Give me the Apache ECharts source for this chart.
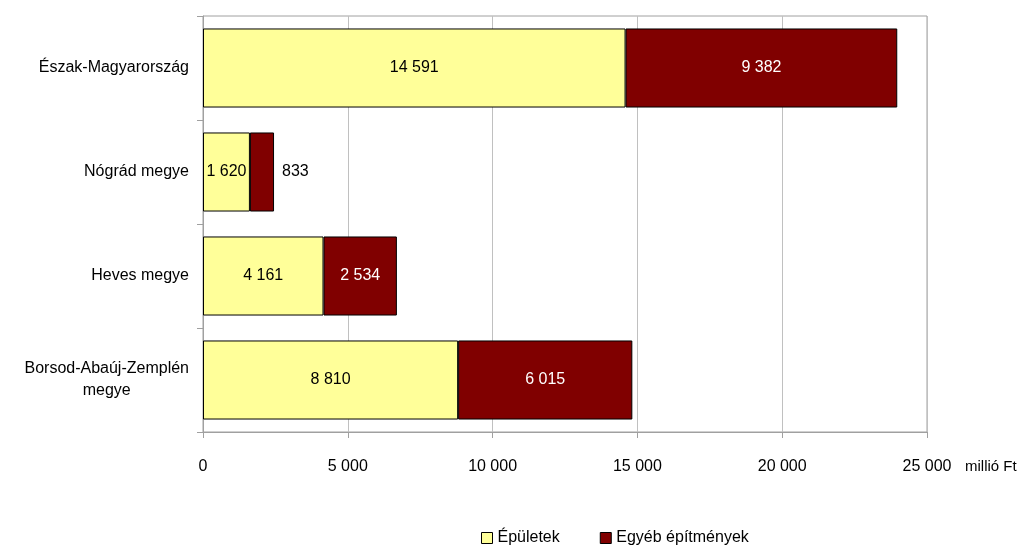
<!DOCTYPE html>
<html><head><meta charset="utf-8">
<script src="https://cdn.jsdelivr.net/npm/echarts@6/dist/echarts.min.js"></script>
<style>html,body{margin:0;padding:0;background:#fff}#c{width:1022px;height:547px}</style>
</head><body><div id="c"></div>
<script>
const categories = ['Észak-Magyarország', 'Nógrád megye', 'Heves megye', 'Borsod-Abaúj-Zemplén\nmegye'];
const epuletek = [14591, 1620, 4161, 8810];
const egyeb = [9382, 833, 2534, 6015];
const seriesNames = ['Épületek', 'Egyéb építmények'];
const xTicks = [0, 5000, 10000, 15000, 20000, 25000];
const unitLabel = 'millió Ft';

const FONT = '"Liberation Sans", Arial, sans-serif';
const FS = 16;
const fmt = v => String(v).replace(/\B(?=(\d{3})+(?!\d))/g, ' ');

const chart = echarts.init(document.getElementById('c'), null, {renderer: 'canvas'});
chart.setOption({
  animation: false,
  textStyle: {fontFamily: FONT},
  grid: {left: 203, right: 95, top: 16, bottom: 115, show: true, borderColor: '#a0a0a0', borderWidth: 1},
  legend: {
    top: 525, left: 476, itemWidth: 11, itemHeight: 11, itemGap: 40,
    textStyle: {fontFamily: FONT, fontSize: 16, color: '#000'},
    data: seriesNames.map(n => ({name: n, icon: 'rect', itemStyle: {borderColor: '#000', borderWidth: 1}}))
  },
  xAxis: {
    type: 'value', min: xTicks[0], max: xTicks[xTicks.length - 1], interval: 5000,
    name: unitLabel, nameLocation: 'end', nameGap: 38,
    nameTextStyle: {fontFamily: FONT, fontSize: 15, color: '#000', align: 'left', verticalAlign: 'top', padding: [27, 0, 0, 0]},
    axisLine: {show: true, lineStyle: {color: '#a0a0a0'}},
    axisTick: {show: true, length: 6, lineStyle: {color: '#a0a0a0'}},
    splitLine: {show: true, lineStyle: {color: '#c0c0c0', width: 1}},
    axisLabel: {margin: 27, fontFamily: FONT, fontSize: FS, color: '#000', formatter: v => fmt(v)}
  },
  yAxis: {
    type: 'category', inverse: true, data: categories,
    axisLine: {show: true, lineStyle: {color: '#a0a0a0'}},
    axisTick: {show: true, length: 6, lineStyle: {color: '#a0a0a0'}},
    axisLabel: {
      margin: 14, fontFamily: FONT, fontSize: FS, color: '#000', lineHeight: 22,
      formatter: v => v.split('\n').map(l => '{c|' + l + '}').join('\n'),
      rich: {c: {align: 'center', fontFamily: FONT, fontSize: FS, color: '#000', lineHeight: 22}}
    }
  },
  series: [
    {
      name: seriesNames[0], type: 'bar', stack: 'a', barCategoryGap: '24%',
      itemStyle: {color: '#FFFF99', borderColor: '#000', borderWidth: 1},
      label: {show: true, position: 'inside', fontFamily: FONT, fontSize: FS, color: '#000', formatter: p => fmt(p.value)},
      data: epuletek
    },
    {
      name: seriesNames[1], type: 'bar', stack: 'a', barCategoryGap: '24%',
      itemStyle: {color: '#800000', borderColor: '#000', borderWidth: 1},
      label: {show: true, position: 'inside', fontFamily: FONT, fontSize: FS, color: '#fff', formatter: p => fmt(p.value)},
      data: egyeb.map((v, i) => i === 1 ? {value: v, label: {position: 'right', color: '#000', distance: 8}} : v)
    }
  ]
});
</script></body></html>
